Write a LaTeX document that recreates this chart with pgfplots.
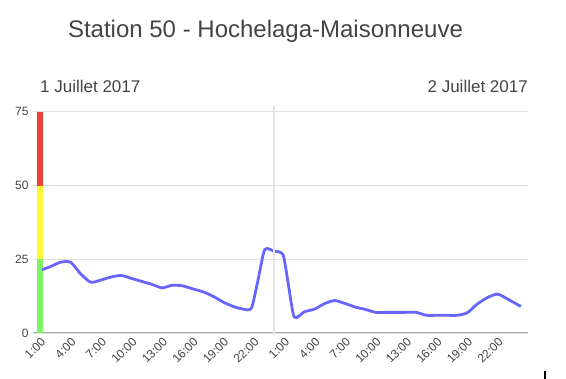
\documentclass[border=0pt]{standalone}
\usepackage{pgfplots}
\pgfplotsset{compat=1.18}
\usepackage{fontspec}
\setmainfont{Liberation Sans}
\definecolor{linec}{RGB}{102,102,255}
\definecolor{redc}{RGB}{234,67,53}
\definecolor{yelc}{RGB}{255,247,51}
\definecolor{grnc}{RGB}{128,240,100}
\definecolor{gridc}{RGB}{224,224,224}
\definecolor{axc}{RGB}{170,170,170}
\definecolor{vlinec}{RGB}{228,228,228}
\definecolor{txtc}{RGB}{68,68,68}
\begin{document}
\begin{tikzpicture}[x=1pt,y=1pt]
\path[use as bounding box] (0,0) rectangle (566,379);
\begin{axis}[
  at={(33pt,46pt)}, anchor=south west,
  scale only axis, width=495pt, height=227pt,
  xmin=-0.7, xmax=48, ymin=0, ymax=77,
  axis line style={draw=none},
  ytick={0,25,50,75},
  ymajorgrids, grid style={gridc, line width=0.8pt},
  xtick={0,3,...,45},
  xticklabels={1:00,4:00,7:00,10:00,13:00,16:00,19:00,22:00,1:00,4:00,7:00,10:00,13:00,16:00,19:00,22:00},
  major tick length=0pt,
  tick label style={font=\fontsize{12}{14}\selectfont, text=txtc},
  xticklabel style={rotate=45, anchor=east, font=\fontsize{12}{14}\selectfont, yshift=-7pt, xshift=1pt},
  yticklabel style={xshift=-1pt},
  /pgf/number format/assume math mode=true,
  clip=false,
]
\addplot[draw=axc, line width=1pt, forget plot] coordinates {(-0.7,0) (48,0)};
\addplot[draw=grnc, line width=6pt] coordinates {(0,0) (0,25)};
\addplot[draw=yelc, line width=6pt] coordinates {(0,25) (0,50)};
\addplot[draw=redc, line width=6pt] coordinates {(0,50) (0,75)};
\addplot[draw=linec, line width=2.8pt, smooth, tension=0.4] coordinates {
(0.2,21.5) (1,22.5) (2,24) (3,24) (4,20) (5,17.2) (6,18) (7,19) (8,19.5) (9,18.5)
(10,17.5) (11,16.5) (12,15.3) (13,16.2) (14,16) (15,15) (16,14) (17,12.5) (18,10.5)
(19,9) (20,8.1) (20.8,8.5) (21.5,19) (22.1,28.3) (23,27.8) (23.9,26.5) (24.4,17) (25,5.4)
(26,7.2) (27,8.1)
(28,10) (29,11) (30,10) (31,8.8) (32,8) (33,7) (34,7) (35,7) (36,7) (37,7)
(38,6) (39,6) (40,6) (41,6) (42,6.8) (43,9.8) (44,12) (45,13.2) (46,11.5) (47.3,9)
};
\addplot[draw=vlinec, line width=2.5pt] coordinates {(23,0) (23,77)};
\end{axis}
\node[text=txtc, font=\fontsize{24}{28}\selectfont] at (265.5,348) {Station 50 - Hochelaga-Maisonneuve};
\node[text=txtc, font=\fontsize{17}{20}\selectfont, anchor=base west, inner sep=0pt] at (40,286) {1 Juillet 2017};
\node[text=txtc, font=\fontsize{17}{20}\selectfont, anchor=base east, inner sep=0pt] at (528,286) {2 Juillet 2017};
\draw[black, line width=1.2pt] (545,0) -- (545,8);
\end{tikzpicture}
\end{document}
